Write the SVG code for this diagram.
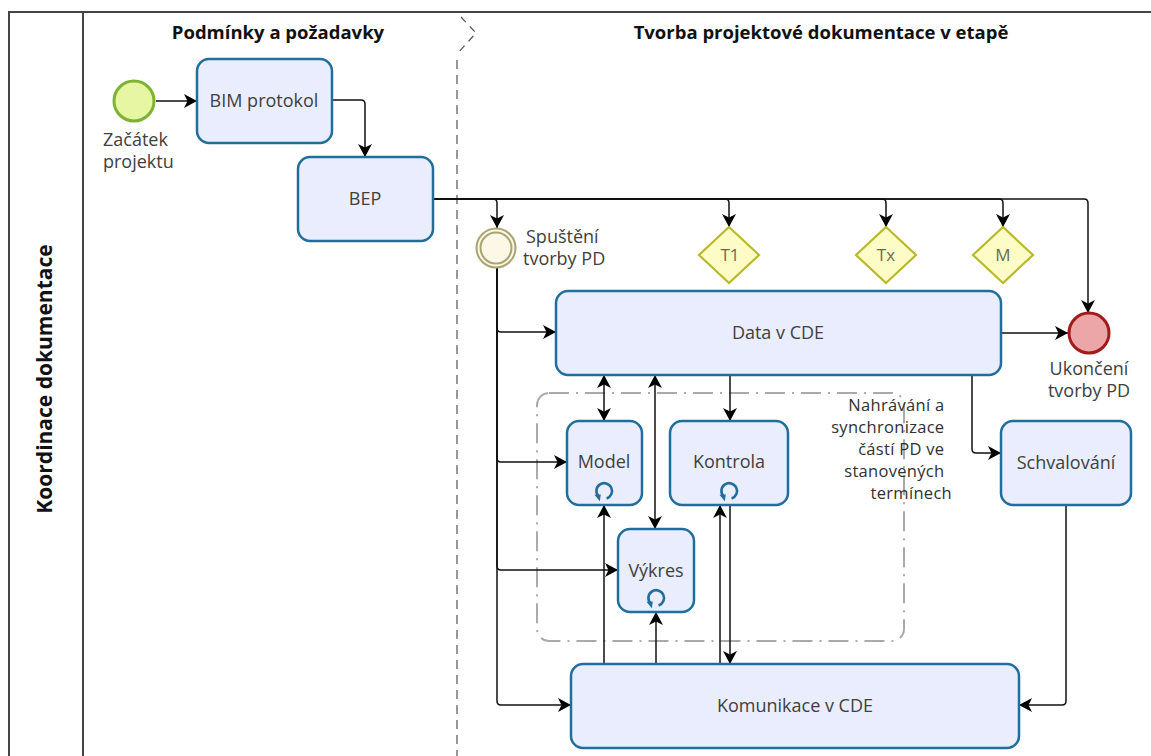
<svg xmlns="http://www.w3.org/2000/svg" width="1151" height="756" viewBox="0 0 1151 756">
  <style>
    .task { fill: #e9edfd; stroke: #1f6e9e; stroke-width: 2.5; }
    .lbl { font-family: "Open Sans", "Noto Sans", sans-serif; font-size: 18px; fill: #404040; text-anchor: middle; }
    .ev { font-family: "Open Sans", "Noto Sans", sans-serif; font-size: 18px; fill: #404040; }
    .note { font-family: "Open Sans", "Noto Sans", sans-serif; font-size: 16.5px; letter-spacing: 0.3px; fill: #303030; text-anchor: end; }
    .title { font-family: "Open Sans", "Noto Sans", sans-serif; font-size: 18.5px; font-weight: 700; fill: #111; text-anchor: middle; }
    .lane { font-family: "Open Sans", "Noto Sans", sans-serif; font-size: 21px; font-weight: 700; fill: #111; text-anchor: middle; }
    .conn { fill: none; stroke: #111; stroke-width: 1.5; }
    .gw { fill: #fdfcc6; stroke: #b9b92c; stroke-width: 2.2; }
    .gwl { font-family: "Open Sans", "Noto Sans", sans-serif; font-size: 17px; fill: #6a6a50; text-anchor: middle; }
    .loop { fill: none; stroke: #1f6e9e; stroke-width: 2.6; }
  </style>
  <defs>
    <marker id="arrow" markerUnits="userSpaceOnUse" markerWidth="16" markerHeight="16" viewBox="0 -8 14 16" refX="13" refY="0" orient="auto-start-reverse">
      <path d="M0,-7 L13,0 L0,7 L3.5,0 z" fill="#000"/>
    </marker>
    <!-- loop marker for repeating tasks -->
    <g id="loopIcon">
      <path class="loop" d="M-5.4,5.4 A7.8,7.8 0 1 1 2.6,7.4"/>
      <path d="M-9.5,3.8 L-3.2,3.6 L-4.2,10.2 z" fill="#1f6e9e"/>
    </g>
  </defs>

  <!-- pool and lane frame -->
  <g id="pool">
    <rect x="0" y="0" width="1151" height="756" fill="#ffffff"/>
    <path d="M1151,12 H9 V756" fill="none" stroke="#444" stroke-width="2"/>
    <path d="M83,12 V756" fill="none" stroke="#444" stroke-width="2"/>
    <text class="lane" transform="translate(52,379) rotate(-90)">Koordinace dokumentace</text>
  </g>

  <!-- phase separator -->
  <g id="phases">
    <path d="M461,17 L476,33 L458,53" fill="none" stroke="#555" stroke-width="1.2" stroke-dasharray="7 6"/>
    <path d="M457,60 V756" fill="none" stroke="#555" stroke-width="1.2" stroke-dasharray="9 6"/>
    <text class="title" x="278" y="39">Podmínky a požadavky</text>
    <text class="title" x="821" y="39">Tvorba projektové dokumentace v etapě</text>
  </g>

  <!-- group box -->
  <g id="group-nahravani">
    <rect x="537" y="393" width="367" height="248" rx="12" fill="none" stroke="#aaaaaa" stroke-width="2" stroke-dasharray="20 7 2 7"/>
    <text class="note" x="949">
      <tspan x="949" y="411">Nahrávání a</tspan>
      <tspan x="949" y="433">synchronizace</tspan>
      <tspan x="949" y="455">částí PD ve</tspan>
      <tspan x="949" y="477">stanovených</tspan>
      <tspan x="952" y="499">termínech</tspan>
    </text>
  </g>

  <!-- connectors -->
  <g id="connectors" class="conn" marker-end="url(#arrow)">
    <path d="M156,101 H197"/>
    <path d="M332,100 H361 Q365,100 365,104 V157"/>
    <path d="M433,199 H493 Q497,199 497,203 V228"/>
    <path d="M433,199 H725 Q729,199 729,203 V227"/>
    <path d="M433,199 H882 Q886,199 886,203 V227"/>
    <path d="M433,199 H999 Q1003,199 1003,203 V227"/>
    <path d="M433,199 H1084 Q1088,199 1088,203 V313"/>
    <path d="M497,268 V328 Q497,332 501,332 H556"/>
    <path d="M497,268 V458 Q497,462 501,462 H567"/>
    <path d="M497,268 V566 Q497,570 501,570 H618"/>
    <path d="M497,268 V701 Q497,705 501,705 H571"/>
    <path d="M1001,333 H1068"/>
    <path d="M972,375 V449 Q972,453 976,453 H1001"/>
    <path d="M1066,505 V701 Q1066,705 1062,705 H1019"/>
    <path d="M604,375 V421" marker-start="url(#arrow)"/>
    <path d="M655,375 V529" marker-start="url(#arrow)"/>
    <path d="M730,375 V421"/>
    <path d="M604,664 V505"/>
    <path d="M656,664 V612"/>
    <path d="M720,664 V505"/>
    <path d="M730,505 V664"/>
  </g>

  <!-- events -->
  <g id="start-zacatek">
    <circle cx="134" cy="101" r="20" fill="#e6f6a3" stroke="#7db330" stroke-width="3"/>
    <text class="ev" x="103" y="146">Začátek</text>
    <text class="ev" x="103" y="168">projektu</text>
  </g>
  <g id="event-spusteni">
    <circle cx="496" cy="248" r="19.5" fill="#fdf8e6" stroke="#aaa472" stroke-width="2"/>
    <circle cx="496" cy="248" r="15.5" fill="none" stroke="#aaa472" stroke-width="2"/>
    <text class="ev" x="526" y="243">Spuštění</text>
    <text class="ev" x="523" y="265">tvorby PD</text>
  </g>
  <g id="end-ukonceni">
    <circle cx="1089" cy="333" r="20" fill="#eca6a8" stroke="#a11a1c" stroke-width="3"/>
    <text class="ev" text-anchor="middle" x="1089" y="375">Ukončení</text>
    <text class="ev" text-anchor="middle" x="1089" y="397">tvorby PD</text>
  </g>

  <!-- milestones -->
  <g id="gw-t1">
    <path class="gw" d="M729,227 L759,255 L729,283 L699,255 z"/>
    <text class="gwl" x="730" y="261">T1</text>
  </g>
  <g id="gw-tx">
    <path class="gw" d="M886,227 L916,255 L886,283 L856,255 z"/>
    <text class="gwl" x="886" y="261">Tx</text>
  </g>
  <g id="gw-m">
    <path class="gw" d="M1003,227 L1033,255 L1003,283 L973,255 z"/>
    <text class="gwl" x="1003" y="261">M</text>
  </g>

  <!-- tasks -->
  <g id="task-bim">
    <rect class="task" x="197" y="59" width="135" height="84" rx="12"/>
    <text class="lbl" x="264" y="107">BIM protokol</text>
  </g>
  <g id="task-bep">
    <rect class="task" x="298" y="157" width="135" height="84" rx="12"/>
    <text class="lbl" x="365" y="205">BEP</text>
  </g>
  <g id="task-data">
    <rect class="task" x="556" y="291" width="445" height="84" rx="12"/>
    <text class="lbl" x="778" y="339">Data v CDE</text>
  </g>
  <g id="task-model">
    <rect class="task" x="567" y="421" width="75" height="84" rx="12"/>
    <text class="lbl" x="604" y="468">Model</text>
    <use href="#loopIcon" x="604" y="491"/>
  </g>
  <g id="task-kontrola">
    <rect class="task" x="670" y="421" width="118" height="84" rx="12"/>
    <text class="lbl" x="729" y="468">Kontrola</text>
    <use href="#loopIcon" x="729" y="491"/>
  </g>
  <g id="task-vykres">
    <rect class="task" x="618" y="529" width="76" height="83" rx="12"/>
    <text class="lbl" x="656" y="577">Výkres</text>
    <use href="#loopIcon" x="656" y="598"/>
  </g>
  <g id="task-schvalovani">
    <rect class="task" x="1001" y="421" width="130" height="84" rx="12"/>
    <text class="lbl" x="1066" y="469">Schvalování</text>
  </g>
  <g id="task-komunikace">
    <rect class="task" x="571" y="664" width="448" height="84" rx="12"/>
    <text class="lbl" x="795" y="712">Komunikace v CDE</text>
  </g>
</svg>
